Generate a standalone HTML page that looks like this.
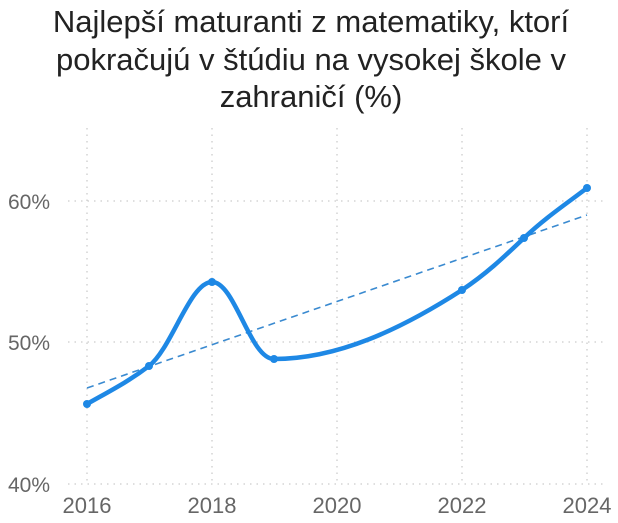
<!DOCTYPE html>
<html><head><meta charset="utf-8"><style>
html,body{margin:0;padding:0;background:#fff;width:618px;height:523px;overflow:hidden}
</style></head><body>
<svg width="618" height="523" xmlns="http://www.w3.org/2000/svg" font-family="Liberation Sans, sans-serif">
<g font-size="31" fill="#222" text-anchor="middle">
<text x="311" y="32">Najlepší maturanti z matematiky, ktorí</text>
<text x="311" y="70">pokračujú v štúdiu na vysokej škole v</text>
<text x="311" y="107">zahraničí (%)</text>
</g>
<g stroke="#ccc" stroke-width="1.3" stroke-dasharray="1.5,5">
<line x1="87" y1="128" x2="87" y2="484"/>
<line x1="212" y1="128" x2="212" y2="484"/>
<line x1="337" y1="128" x2="337" y2="484"/>
<line x1="462" y1="128" x2="462" y2="484"/>
<line x1="587" y1="128" x2="587" y2="484"/>
<line x1="68" y1="201" x2="604" y2="201"/>
<line x1="68" y1="342" x2="604" y2="342"/>
<line x1="68" y1="484" x2="604" y2="484"/>
</g>
<g font-size="21" fill="#666">
<text x="8" y="209">60%</text>
<text x="8" y="350">50%</text>
<text x="8" y="492">40%</text>
<g text-anchor="middle" font-size="22">
<text x="87" y="513">2016</text>
<text x="212" y="513">2018</text>
<text x="337" y="513">2020</text>
<text x="462" y="513">2022</text>
<text x="587" y="513">2024</text>
</g></g>
<line x1="87" y1="388" x2="587" y2="215" stroke="#3a8ad0" stroke-width="1.6" stroke-dasharray="7,5"/>
<path d="M87,404 C108,392 128,382 149,366 C172,348 190,282 212,282 C235,282 250,359 274,359 C337,359 400,330 462,290 C486,274 503,258 524,238 C545,218 566,204 587,188" fill="none" stroke="#1e88e5" stroke-width="4.5" stroke-linecap="round"/>
<g fill="#1e88e5">
<circle cx="87" cy="404" r="4"/><circle cx="149" cy="366" r="4"/><circle cx="212" cy="282" r="4"/>
<circle cx="274" cy="359" r="4"/><circle cx="462" cy="290" r="4"/><circle cx="524" cy="238" r="4"/><circle cx="587" cy="188" r="4"/>
</g>
</svg>
</body></html>
